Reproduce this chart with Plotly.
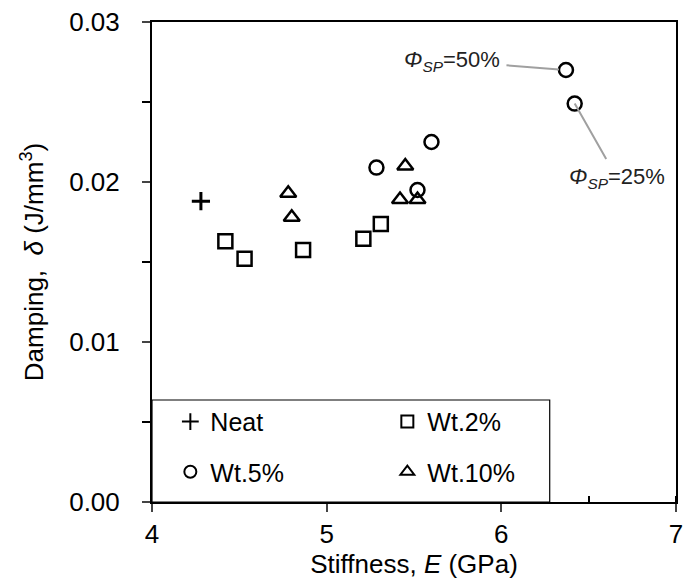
import plotly.graph_objects as go

# Data (Stiffness E in GPa, Damping delta in J/mm^3)
neat_E = [4.28]
neat_d = [0.0188]

wt2_E = [4.42, 4.53, 4.865, 5.21, 5.31]
wt2_d = [0.0163, 0.0152, 0.01575, 0.01645, 0.01738]

wt5_E = [5.285, 5.52, 5.60, 6.37, 6.42]
wt5_d = [0.0209, 0.0195, 0.0225, 0.0270, 0.0249]

wt10_E = [4.78, 4.80, 5.45, 5.42, 5.52]
wt10_d = [0.0193, 0.0178, 0.0210, 0.0189, 0.0189]

x_ticks = [4, 5, 6, 7]
y_ticks = [0.00, 0.01, 0.02, 0.03]
y_labels = ["0.00", "0.01", "0.02", "0.03"]

FONT = "Arial, Liberation Sans, sans-serif"
mk = dict(color="black", size=14, line=dict(color="black", width=2.5))

fig = go.Figure()
fig.add_trace(go.Scatter(x=neat_E, y=neat_d, mode="markers", name="Neat",
                         marker=dict(symbol="cross-thin", size=13, color="black",
                                     line=dict(color="black", width=3)),
                         legend="legend"))
fig.add_trace(go.Scatter(x=wt2_E, y=wt2_d, mode="markers", name="Wt.2%",
                         marker=dict(symbol="square-open", **mk), legend="legend"))
fig.add_trace(go.Scatter(x=wt5_E, y=wt5_d, mode="markers", name="Wt.5%",
                         marker=dict(symbol="circle-open", **mk), legend="legend2"))
fig.add_trace(go.Scatter(x=wt10_E, y=wt10_d, mode="markers", name="Wt.10%",
                         marker=dict(symbol="triangle-up-open", **mk), legend="legend2"))

# Annotations for the two highlighted points (index 3 and 4 of Wt.5%)
fig.add_annotation(x=wt5_E[3], y=wt5_d[3], text="<i>Φ<sub>SP</sub></i>=50%",
                   showarrow=True, arrowhead=0, arrowcolor="#a0a0a0", arrowwidth=2,
                   ax=-114, ay=-9, standoff=7, borderpad=6,
                   font=dict(family=FONT, size=22, color="#222"))
fig.add_annotation(x=wt5_E[4], y=wt5_d[4], text="<i>Φ<sub>SP</sub></i>=25%",
                   showarrow=True, arrowhead=0, arrowcolor="#a0a0a0", arrowwidth=2,
                   ax=42, ay=74, standoff=0, borderpad=4,
                   font=dict(family=FONT, size=22, color="#222"))

# Legend box
fig.add_shape(type="rect", xref="paper", yref="paper", x0=0, x1=0.759, y0=0, y1=0.2125,
              line=dict(color="black", width=1.2), fillcolor="white", layer="above")

leg_common = dict(orientation="h", xanchor="left", yanchor="middle", x=0.035,
                  bgcolor="rgba(0,0,0,0)", borderwidth=0,
                  font=dict(family=FONT, size=25, color="black"),
                  entrywidth=172, itemsizing="constant", itemwidth=30)

fig.update_layout(
    width=690, height=587,
    margin=dict(l=152, r=7, t=22, b=85),
    paper_bgcolor="white", plot_bgcolor="white",
    font=dict(family=FONT, size=26, color="black"),
    legend=dict(y=0.167, **leg_common),
    legend2=dict(y=0.0625, **leg_common),
    xaxis=dict(range=[4, 7], tickvals=x_ticks, ticks="outside", ticklen=8, tickwidth=2,
               showline=True, linewidth=2, linecolor="black", mirror=True,
               showgrid=False, zeroline=False,
               minor=dict(dtick=0.5, ticks="inside", ticklen=6, tickwidth=1.5,
                          tickcolor="black", showgrid=False),
               tickfont=dict(size=26), ticklabelstandoff=0,
               title=dict(text="Stiffness, <i>E</i> (GPa)", font=dict(size=26), standoff=6)),
    yaxis=dict(range=[0, 0.03], tickvals=y_ticks, ticktext=y_labels, ticks="outside",
               ticklen=8, tickwidth=2,
               showline=True, linewidth=2, linecolor="black", mirror=True,
               showgrid=False, zeroline=False,
               minor=dict(dtick=0.005, ticks="outside", ticklen=8, tickwidth=2,
                          tickcolor="black", showgrid=False),
               tickfont=dict(size=26), ticklabelstandoff=17,
               title=dict(text="Damping,  <i>δ</i> (J/mm<sup>3</sup>)", font=dict(size=26),
                          standoff=18)),
)

fig.write_html("out.html")
